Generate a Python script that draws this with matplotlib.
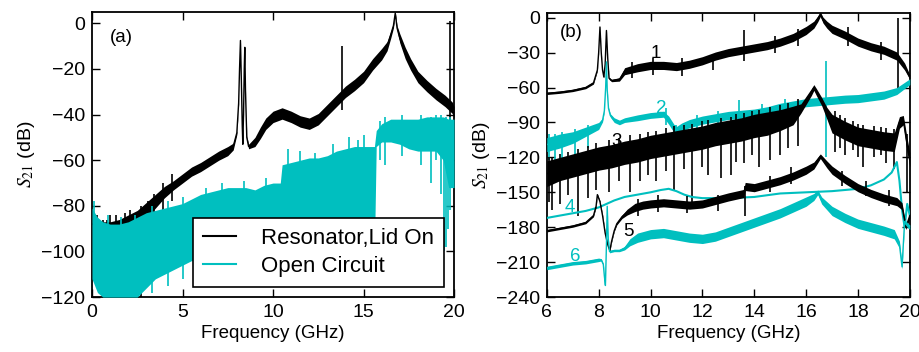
import numpy as np
import matplotlib
matplotlib.use('Agg')
import matplotlib.pyplot as plt

plt.rcParams['font.family'] = ['Liberation Sans', 'DejaVu Sans']
plt.rcParams['mathtext.fontset'] = 'stix'

BLACK = 'black'
CYAN = '#00bfbf'

# ---------------- panel (a) ----------------
# resonator, lid on: centre trace and half width of the noise band
res_f = [0.05, 0.5, 1.0, 1.5, 2.0, 2.5, 3.0, 3.5, 4.0, 4.5, 5.0, 5.5, 6.0, 6.5, 7.0, 7.5, 7.8,
         8.0, 8.1, 8.15, 8.2, 8.25, 8.3, 8.33, 8.37, 8.41, 8.44, 8.48, 8.55, 8.65, 9.0, 9.3, 9.6,
         10.0, 10.5, 11.0, 11.5, 12.0, 12.5, 13.0, 13.5, 14.0, 14.5, 15.0, 15.5, 16.0, 16.3, 16.5,
         16.65, 16.75, 16.85, 17.0, 17.3, 17.6, 18.0, 18.5, 19.0, 19.5, 19.9, 20.0]
res_db = [-88, -91, -91, -90, -88, -86, -82, -78, -74, -71, -68, -65, -63, -60.5, -58, -56, -54,
          -48, -35, -20, -7.5, -25, -45, -53, -40, -20, -10.5, -30, -50, -54, -52, -48, -44,
          -41, -39.5, -41, -43, -44, -42, -38, -34, -30, -27, -23.5, -18, -13.5, -10, -5,
          -1, 4.5, -2, -6.5, -13, -18, -23.5, -27.5, -31, -34, -37, -39]
res_w = [5, 4, 4, 4, 4, 4, 3.5, 3, 2.5, 2, 2, 2, 2, 2, 2, 2, 1.5,
         0.8, 0.5, 0.5, 0.5, 0.5, 0.5, 0.8, 0.5, 0.5, 0.5, 0.5, 0.8, 1, 2, 2.5, 2.5,
         2.5, 2.5, 2.5, 2.5, 2.5, 2.5, 2.5, 2.5, 2.5, 2.5, 2.5, 2.5, 2.5, 2, 1.5,
         1, 0.8, 1, 2, 2.5, 2.5, 2.5, 2.5, 2.5, 2.5, 2.5, 2.5]
res_spk_f = [0.3, 0.6, 0.85, 1.0, 1.3, 1.8, 2.1, 2.7, 3.1, 3.4, 3.9, 4.4, 13.8, 19.75]
res_spk_lo = [-108, -112, -120, -118, -120, -120, -115, -120, -100, -88, -82, -78, -38, -44]
res_spk_hi = [-84, -86, -86, -84, -84, -83, -82, -80, -78, -75, -70, -66, -10, 1]

# open circuit: upper and lower envelope of the noise
oc_f = [0.0, 0.3, 0.6, 1.0, 1.5, 2.0, 2.5, 3.0, 3.5, 4.0, 4.5, 5.0, 5.5, 6.0, 6.5, 7.0, 7.5,
        8.0, 8.5, 9.0, 9.5, 10.0, 10.4, 10.5, 11.0, 11.5, 12.0, 12.5, 13.0, 13.5, 14.0, 14.5,
        15.0, 15.5, 15.6, 15.7, 16.0, 16.5, 17.0, 17.5, 18.0, 18.5, 19.0, 19.4, 19.7, 20.0]
oc_hi = [-81, -85, -87, -88, -88, -87, -85, -83, -82, -81, -80, -79, -77, -75, -74, -73, -72,
         -72, -72, -73, -71, -70, -70, -62, -61, -60, -59, -59, -58, -56, -55, -54,
         -54, -54, -54, -47, -44, -42, -42, -42, -42, -41, -41, -41, -42, -42]
oc_lo = [-112, -118, -120, -120, -120, -120, -120, -116, -112, -110, -108, -106, -104, -104,
         -104, -104, -104, -104, -104, -104, -104, -104, -104, -100, -100, -100, -100, -100,
         -100, -100, -100, -100, -100, -100, -100, -54, -52, -52, -53, -55, -56, -56, -56, -60,
         -72, -72]
oc_spk_f = [0.1, 0.9, 1.6, 2.4, 3.3, 4.2, 5.0, 6.3, 7.2, 8.4, 9.6, 10.8, 11.5, 12.3, 13.3,
            14.2, 14.7, 15.0, 15.9, 16.2, 17.1, 18.2, 18.7, 19.0, 19.3, 19.45, 19.55, 19.65, 19.8]
oc_spk_lo = [-95, -120, -120, -120, -118, -115, -112, -100, -100, -100, -100, -90, -90, -90,
             -90, -90, -90, -90, -60, -62, -58, -62, -70, -60, -75, -100, -98, -90, -82]
oc_spk_hi = [-78, -84, -85, -84, -80, -78, -76, -72, -70, -69, -68, -55, -56, -57, -53,
             -50, -51, -49, -43, -41, -40, -40, -41, -40, -40, -42, -41, -43, -41]

# ---------------- panel (b) ----------------
c1_f = [6.0, 6.5, 7.0, 7.5, 7.8, 7.95, 8.0, 8.05, 8.1, 8.15, 8.2, 8.25, 8.3, 8.35, 8.4, 8.5,
        8.8, 9.0, 9.5, 10.0, 10.5, 11.0, 11.5, 12.0, 12.5, 13.0, 13.5, 14.0, 14.5, 15.0, 15.5,
        16.0, 16.3, 16.45, 16.55, 16.65, 16.8, 17.0, 17.5, 18.0, 18.5, 19.0, 19.5, 19.8, 20.0]
c1_db = [-65, -64, -62.5, -60, -56, -45, -30, -8, -30, -45, -51, -40, -11, -35, -52, -54,
         -53, -46, -43, -41, -41, -42, -40, -37, -33, -30, -28, -26, -24, -21, -17,
         -11, -6, -1, 3, -2, -6, -10, -15, -21, -25, -28, -33, -42, -51]
c1_w = [1, 1, 1, 1, 1, 0.8, 0.5, 0.5, 0.5, 0.5, 0.8, 0.5, 0.5, 0.5, 1, 1,
        1.5, 3, 3.5, 3.5, 3.5, 3.5, 3.5, 3.5, 3.5, 3.5, 3.5, 3.5, 3.5, 3.5, 3.5,
        3.5, 3, 2.5, 2, 2.5, 3, 3.5, 3.5, 3.5, 3.5, 3.5, 3.5, 3, 2]
c1_spk_f = [9.3, 10.1, 11.2, 12.4, 13.6, 14.8, 15.7, 17.6, 18.9, 19.55]
c1_spk_lo = [-52, -49, -50, -45, -37, -30, -24, -24, -36, -60]
c1_spk_hi = [-38, -35, -35, -31, -11, -16, -10, -8, -21, 0]

c2_f = [6.0, 6.5, 7.0, 7.5, 8.0, 8.15, 8.22, 8.27, 8.3, 8.33, 8.38, 8.45, 8.6, 8.8, 9.0,
        9.5, 10.0, 10.5, 10.7, 10.9, 11.0, 11.2, 11.5, 12.0, 12.5, 13.0, 13.5, 14.0, 14.5,
        15.0, 15.5, 16.0, 16.5, 17.0, 17.5, 18.0, 18.5, 19.0, 19.5, 20.0]
c2_db = [-109, -106, -103, -98, -93, -88, -80, -60, -38, -62, -78, -84, -88, -90, -88,
         -86, -84, -83, -88, -95, -97, -94, -91, -88, -86, -84, -83, -82, -80,
         -77, -75, -73, -72, -71, -70, -69.5, -68, -66.5, -63, -55]
c2_w = [6, 6, 5, 4, 3, 1.5, 1, 0.5, 0.5, 0.5, 1, 1.5, 2, 2, 2,
        2.5, 2.5, 2.5, 3.5, 3.5, 3.5, 3.5, 3.5, 3.5, 3.5, 3.5, 3.5, 3.5, 3.5,
        3.5, 3.5, 3.5, 3.5, 3.5, 3.5, 3.5, 3.5, 3.5, 3, 2.5]
c2_spk_f = [6.1, 6.3, 6.6, 7.1, 7.6, 10.6, 11.0, 11.8, 12.6, 13.4, 14.3, 15.2, 16.78]
c2_spk_lo = [-122, -128, -125, -120, -112, -92, -103, -98, -94, -84, -88, -84, -120]
c2_spk_hi = [-100, -100, -98, -96, -92, -78, -92, -84, -80, -71, -74, -70, -37]

c3_f = [6.0, 6.5, 7.0, 7.5, 8.0, 8.5, 9.0, 9.5, 10.0, 10.5, 11.0, 11.5, 12.0, 12.5, 13.0,
        13.5, 14.0, 14.5, 15.0, 15.5, 15.8, 16.0, 16.2, 16.3, 16.4, 16.6, 16.8, 17.0, 17.5,
        18.0, 18.5, 19.0, 19.4, 19.6, 19.75, 19.9, 20.0]
c3_db = [-134, -130, -127, -124, -121, -119, -116, -114, -111, -109, -107, -105, -103, -100,
         -98, -96, -93, -91, -88, -84, -78, -71, -64, -60, -64, -72, -82, -91, -97,
         -102, -104, -106, -107, -90, -88, -110, -122]
c3_w = [11, 10, 10, 10, 10, 10, 10, 10, 10, 10, 10, 10, 10, 10, 10,
        10, 10, 10, 9, 8, 4, 3.5, 3, 2.5, 3, 3.5, 5, 8, 8,
        8, 8, 8, 8, 5, 4, 6, 6]
c3_spk_f = [6.1, 6.2, 6.5, 6.8, 7.2, 7.6, 7.9, 8.4, 8.8, 9.2, 9.6, 9.9, 10.2, 10.6, 10.9,
            11.3, 11.6, 12.0, 12.2, 12.7, 13.1, 13.3, 13.6, 13.9, 14.2, 14.6, 15.0, 15.3,
            15.7, 17.1, 17.3, 17.5, 17.8, 18.0, 18.2, 18.6, 18.9, 19.1, 19.4, 19.9]
c3_spk_lo = [-158, -165, -160, -152, -170, -155, -148, -150, -140, -150, -140, -135, -140,
             -132, -148, -130, -158, -128, -135, -138, -135, -124, -125, -118, -128, -122,
             -118, -112, -110, -115, -112, -118, -114, -120, -128, -120, -118, -125, -130,
             -150]
c3_spk_hi = [-120, -120, -117, -115, -113, -110, -108, -105, -103, -101, -100, -98, -97,
             -95, -93, -92, -91, -89, -88, -86, -85, -83, -82, -80, -79, -77, -75, -73,
             -70, -80, -84, -86, -89, -91, -92, -93, -94, -95, -96, -100]

c4_f = [6.0, 6.5, 7.0, 7.5, 8.0, 8.3, 8.6, 9.0, 9.5, 10.0, 10.4, 10.7, 11.0, 11.3, 11.6,
        12.0, 13.0, 14.0, 15.0, 16.0, 17.0, 18.0, 18.5, 19.0, 19.3, 19.5, 19.6, 19.7, 19.8,
        19.9, 20.0]
c4_db = [-172, -170, -168, -166, -163, -160, -157, -154, -152, -150, -148, -147, -149,
         -152, -154, -155, -155, -154, -151, -150, -149, -147, -144, -139, -133, -124,
         -140, -165, -180, -160, -170]

c5_f = [6.0, 6.5, 7.0, 7.5, 7.8, 7.9, 7.95, 8.05, 8.15, 8.25, 8.35, 8.43, 8.5, 8.6, 8.7,
        8.9, 9.1, 9.4, 9.7, 10.0, 10.5, 11.0, 11.5, 12.0, 12.5, 13.0, 13.6, 13.65, 14.0,
        14.5, 15.0, 15.5, 16.0, 16.3, 16.55, 16.8, 17.0, 17.5, 18.0, 18.5, 19.0, 19.5, 19.7,
        19.85, 20.0]
c5_db = [-183, -181, -179, -176, -170, -162, -152, -158, -170, -185, -195, -200, -192, -183,
         -177, -171, -167, -163, -161, -160, -159, -160, -161, -160, -157, -154, -151, -145,
         -146, -143, -140, -136, -131, -127, -119, -126, -131, -139, -146, -151, -155, -158,
         -162, -180, -170]
c5_w = [1, 1, 1, 1, 1, 1, 0.8, 0.8, 0.8, 0.8, 0.8, 0.8, 0.8, 0.8, 1,
        1.5, 2.5, 3.5, 3.5, 3.5, 3.5, 3.5, 3.5, 3.5, 3.5, 3.5, 3.5, 3.5, 3.5,
        3.5, 3.5, 3.5, 3.5, 3, 2, 3, 3.5, 3.5, 3.5, 3.5, 3.5, 3.5, 3, 2, 2]
c5_spk_f = [9.5, 10.3, 11.4, 12.6, 13.65, 14.6, 15.4, 17.4, 18.3, 19.2]
c5_spk_lo = [-170, -167, -168, -166, -170, -150, -143, -145, -153, -162]
c5_spk_hi = [-156, -152, -153, -152, -145, -136, -128, -132, -140, -148]

c6_f = [6.0, 6.5, 7.0, 7.5, 8.0, 8.1, 8.18, 8.22, 8.26, 8.3, 8.33, 8.37, 8.42, 8.6, 8.8,
        9.0, 9.2, 9.5, 10.0, 10.5, 11.0, 11.5, 12.0, 12.5, 13.0, 13.5, 14.0, 14.5, 15.0,
        15.5, 16.0, 16.3, 16.45, 16.6, 17.0, 17.5, 18.0, 18.5, 19.0, 19.4, 19.6, 19.7, 19.8,
        19.9, 20.0]
c6_db = [-215, -213, -211, -210, -208, -208, -212, -222, -230, -195, -162, -190, -201, -200,
         -200, -198, -193, -189, -186, -185, -187, -189, -190, -188, -184, -180, -176, -172,
         -168, -163, -158, -154, -150, -157, -166, -172, -177, -180, -183, -186, -195, -214,
         -175, -178, -180]
c6_w = [1.5, 1.5, 1.5, 1.5, 1.5, 1, 0.8, 0.8, 0.8, 0.8, 0.8, 0.8, 1, 1, 1,
        1.5, 3, 4, 4, 4, 4, 4, 4, 4, 4, 4, 4, 4, 4,
        4, 4, 3, 2, 3, 4, 4, 4, 4, 4, 4, 3, 2, 2, 2, 2]

trace_labels = ['1', '2', '3', '4', '5', '6']
label_f = [10.2, 10.4, 8.7, 6.9, 9.15, 7.1]
label_db = [-31, -78, -106, -163, -184, -205]
label_col = [BLACK, CYAN, BLACK, CYAN, BLACK, CYAN]


def band(ax, f, db, w, color, z):
    f = np.asarray(f)
    db = np.asarray(db, dtype=float)
    w = np.asarray(w, dtype=float)
    ax.fill_between(f, db - w, db + w, color=color, lw=0, zorder=z)
    ax.plot(f, db, color=color, lw=1.0, zorder=z)


def style(ax):
    ax.tick_params(direction='in', top=True, right=True, length=6, width=1,
                   labelsize=14, pad=5)
    for s in ax.spines.values():
        s.set_linewidth(1.3)
    ax.set_xlabel('Frequency (GHz)', fontsize=13.5, labelpad=3)
    ax.set_ylabel(r'$S_{21}$ (dB)', fontsize=14, labelpad=3)


fig = plt.figure(figsize=(9.19, 3.52), dpi=100)
ax1 = fig.add_axes([0.1001, 0.156, 0.394, 0.810])
ax2 = fig.add_axes([0.595, 0.156, 0.395, 0.807])

# panel (a)
band(ax1, res_f, res_db, res_w, BLACK, 2)
ax1.vlines(res_spk_f, res_spk_lo, res_spk_hi, color=BLACK, lw=1.2, zorder=2)
ax1.fill_between(oc_f, oc_lo, oc_hi, color=CYAN, lw=0, zorder=3)
ax1.vlines(oc_spk_f, oc_spk_lo, oc_spk_hi, color=CYAN, lw=1.2, zorder=3)
ax1.plot([], [], color=BLACK, lw=1.5, label='Resonator,Lid On')
ax1.plot([], [], color=CYAN, lw=1.5, label='Open Circuit')
leg = ax1.legend(loc='lower right', bbox_to_anchor=(0.972, 0.036), fontsize=16,
                 frameon=True, fancybox=False, framealpha=1, facecolor='white',
                 handlelength=1.5, handletextpad=1.1, borderpad=0.45,
                 labelspacing=0.3, borderaxespad=0)
leg.get_frame().set_edgecolor('black')
leg.get_frame().set_linewidth(1.2)
leg.set_zorder(10)
ax1.set_xlim(0, 20)
ax1.set_ylim(-120, 5)
ax1.set_xticks([0, 5, 10, 15, 20])
ax1.set_yticks([-120, -100, -80, -60, -40, -20, 0])
ax1.text(1.0, -6, '(a)', fontsize=13.5, va='center')
style(ax1)

# panel (b)
band(ax2, c1_f, c1_db, c1_w, BLACK, 2)
ax2.vlines(c1_spk_f, c1_spk_lo, c1_spk_hi, color=BLACK, lw=1.2, zorder=2)
band(ax2, c2_f, c2_db, c2_w, CYAN, 3)
ax2.vlines(c2_spk_f, c2_spk_lo, c2_spk_hi, color=CYAN, lw=1.2, zorder=3)
band(ax2, c3_f, c3_db, c3_w, BLACK, 4)
ax2.vlines(c3_spk_f, c3_spk_lo, c3_spk_hi, color=BLACK, lw=1.2, zorder=4)
ax2.plot(c4_f, c4_db, color=CYAN, lw=1.5, zorder=5)
band(ax2, c5_f, c5_db, c5_w, BLACK, 6)
ax2.vlines(c5_spk_f, c5_spk_lo, c5_spk_hi, color=BLACK, lw=1.2, zorder=6)
band(ax2, c6_f, c6_db, c6_w, CYAN, 7)
for t, x, y, c in zip(trace_labels, label_f, label_db, label_col):
    ax2.text(x, y, t, color=c, fontsize=13.5, ha='center', va='center', zorder=9)
ax2.set_xlim(6, 20)
ax2.set_ylim(-240, 4)
ax2.set_xticks([6, 8, 10, 12, 14, 16, 18, 20])
ax2.set_yticks([-240, -210, -180, -150, -120, -90, -60, -30, 0])
ax2.text(6.5, -13, '(b)', fontsize=13.5, va='center')
style(ax2)

fig.savefig('out.png', dpi=100)
